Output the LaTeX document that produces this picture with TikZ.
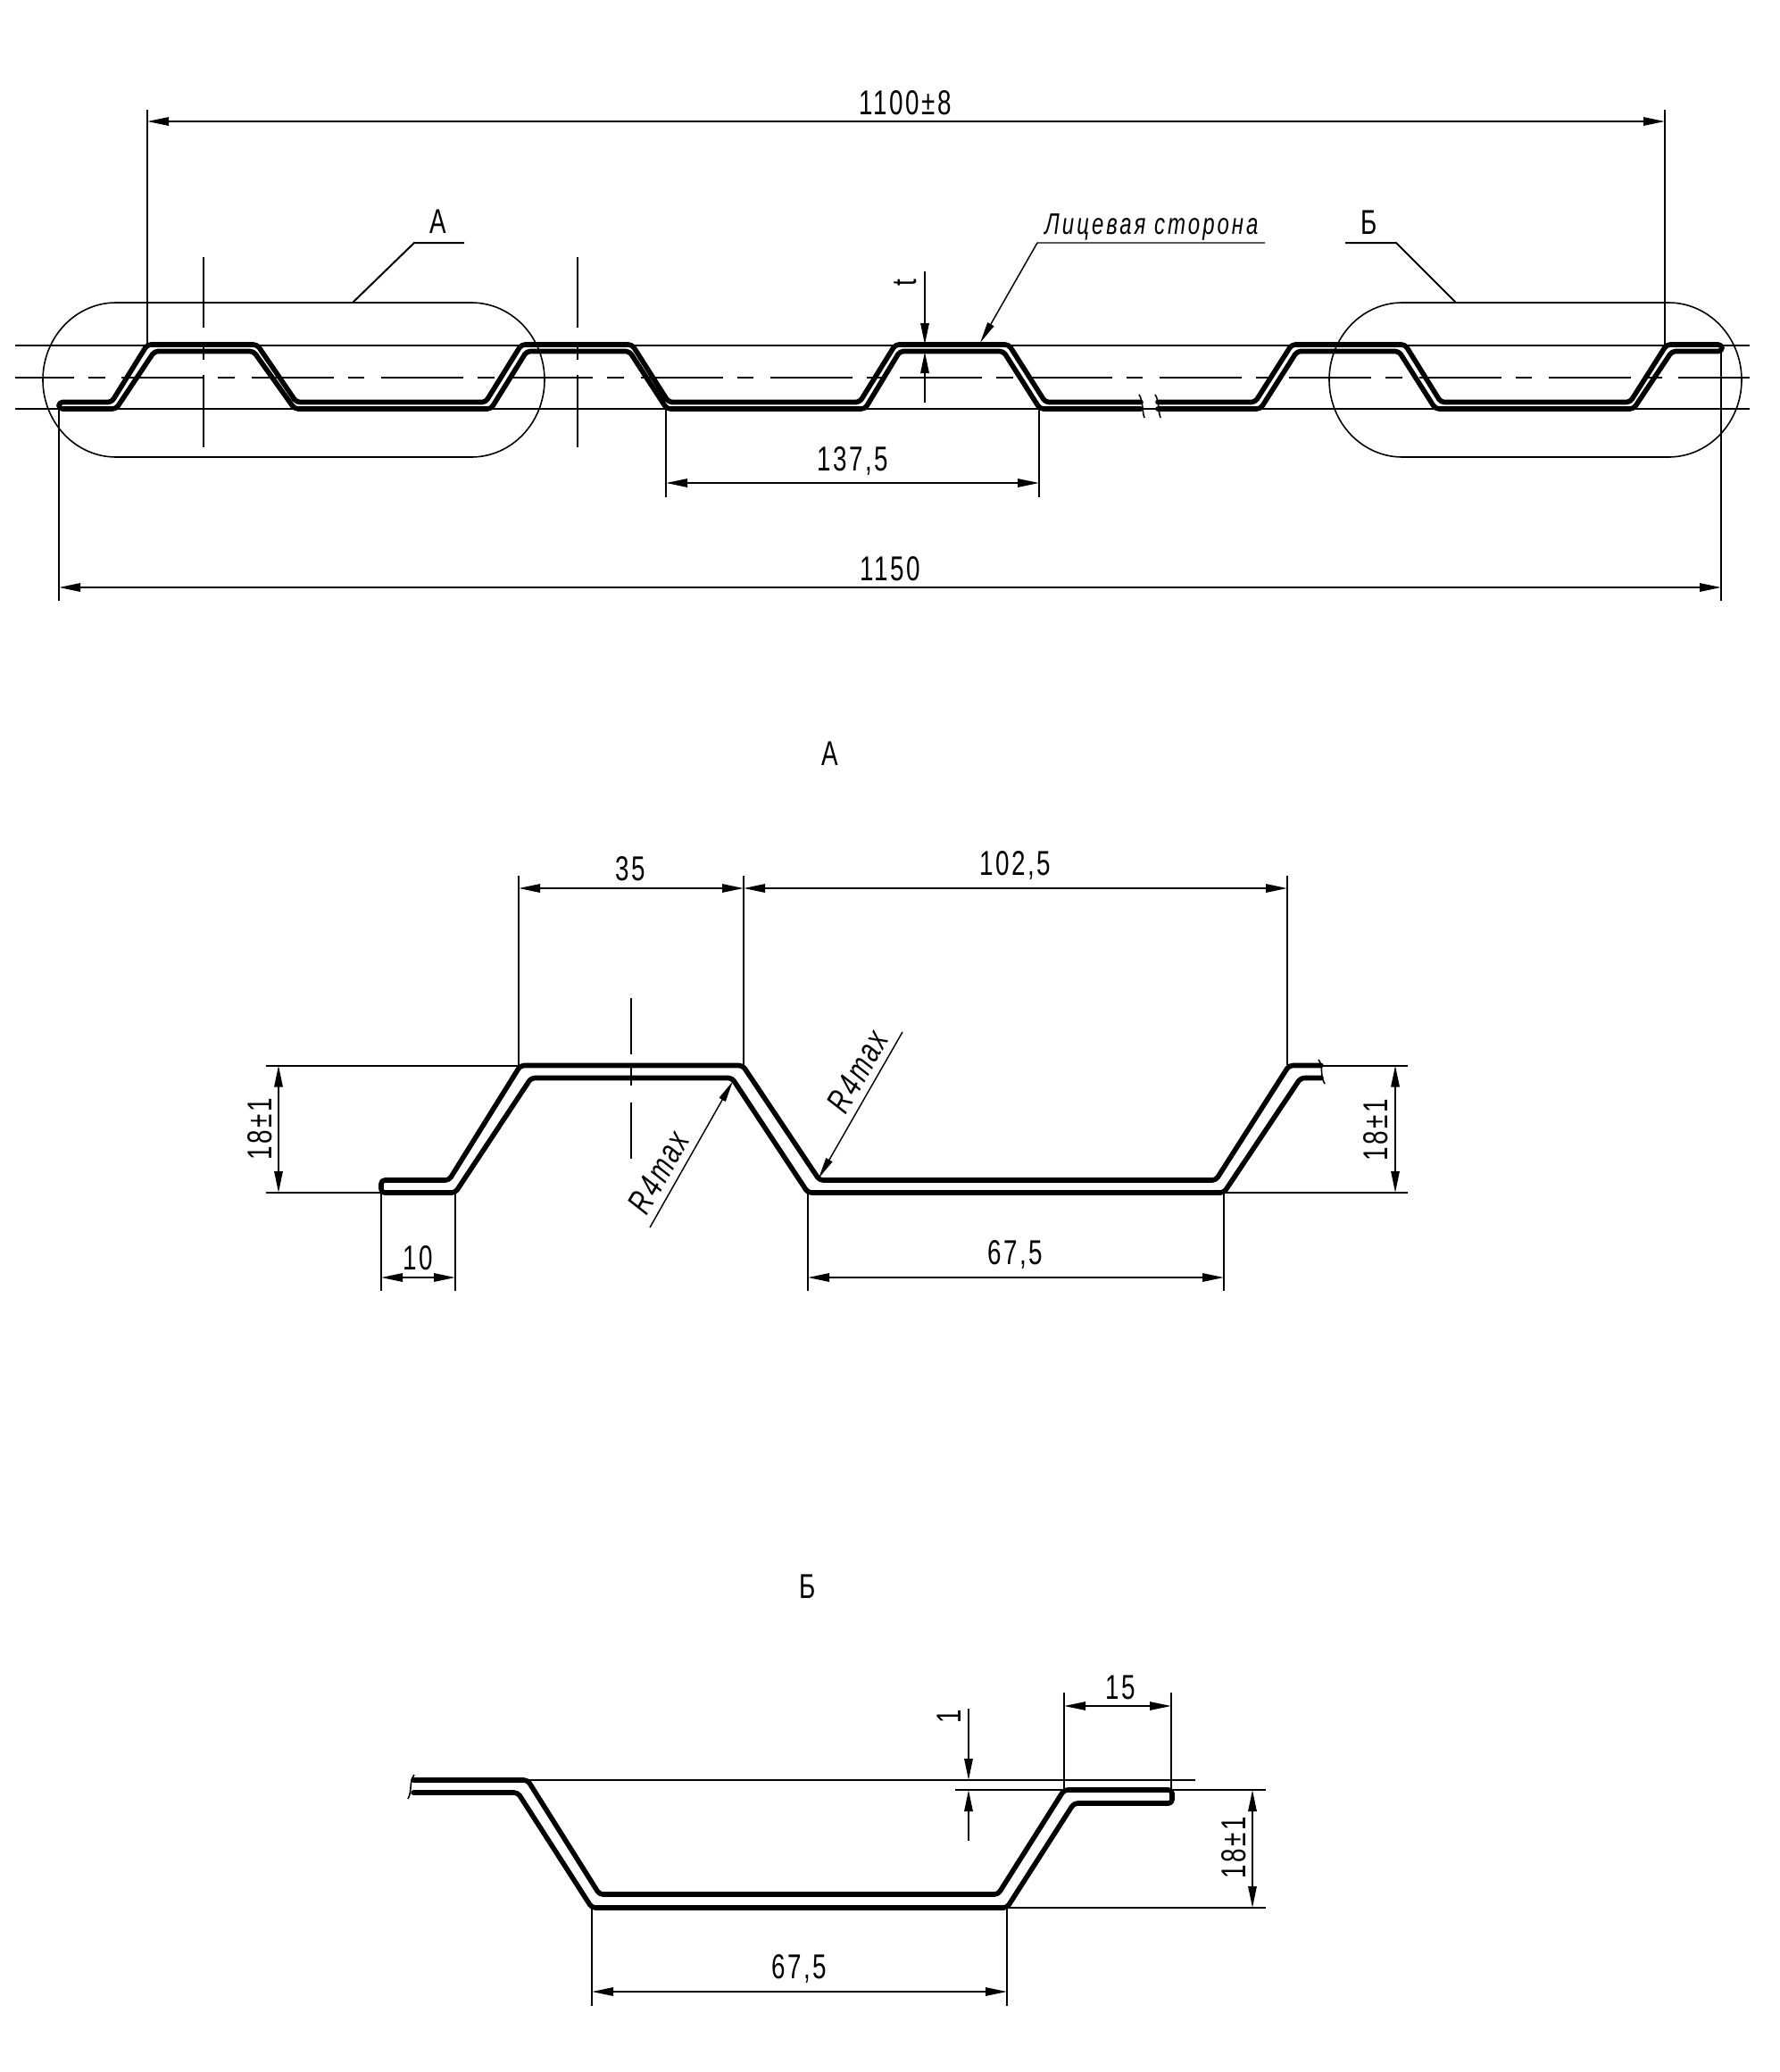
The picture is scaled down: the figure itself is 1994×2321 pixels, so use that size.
\documentclass[tikz,border=0pt]{standalone}
\usepackage{fontspec}
\setmainfont[FakeStretch=0.72,LetterSpace=6.5]{Liberation Sans}
\usetikzlibrary{arrows.meta}

\tikzset{
	profile/.style={line width=4.2pt,line cap=round,line join=round,rounded corners=3pt},
	thinline/.style={line width=1.5pt},
	contour/.style={line width=1.2pt},
	dimline/.style={line width=1.5pt,{Triangle[length=18pt,width=7pt]}-{Triangle[length=18pt,width=7pt]}},
	dimtip/.style={line width=1.5pt,-{Triangle[length=18pt,width=7pt]}},
	radtip/.style={line width=1.1pt,-{Triangle[length=18pt,width=6pt]}},
	dimtext/.style={font=\fontsize{29}{32}\selectfont,inner sep=0pt},
	radtext/.style={font=\itshape\fontsize{29}{32}\selectfont,inner sep=0pt,rotate=60},
	smalltext/.style={font=\itshape\fontsize{25}{28}\selectfont\addfontfeature{LetterSpace=9},inner sep=0pt}
}

\begin{document}
\begin{tikzpicture}[x=0.75pt,y=0.75pt,yscale=-1,xscale=1]
		\useasboundingbox (0,0) rectangle (1994,2321);

		%sheet, full view
		\draw [profile] (1278,450.5) -- (1171,450.5) -- (1130,386) -- (1003,386) -- (963,450.5) -- (749,450.5) -- (708,386) -- (584,386) -- (544,450.5) -- (332,450.5) -- (288,386) -- (165,386) -- (125,450.5) -- (66,450.5) -- (66,458) -- (130,458) -- (173,393.5) -- (284,393.5) -- (330,458) -- (550,458) -- (590,393.5) -- (705,393.5) -- (747,458) -- (969,458) -- (1008,393.5) -- (1124,393.5) -- (1165,458) -- (1278,458) ;
		\draw [profile] (1297,450.5) -- (1406,450.5) -- (1447,386) -- (1574,386) -- (1614,450.5) -- (1826,450.5) -- (1867,386) -- (1929,386) -- (1929,393.5) -- (1873,393.5) -- (1830,458) -- (1608,458) -- (1567,393.5) -- (1453,393.5) -- (1412,458) -- (1297,458) ;
		\draw [contour] (1276,442) .. controls (1281,450) and (1279,460) .. (1282,468) ;
		\draw [contour] (1294,442) .. controls (1299,450) and (1297,460) .. (1300,468) ;

		\draw [thinline] (17,387) -- (1960,387) ;
		\draw [thinline] (17,458) -- (1960,458) ;
		\draw [thinline,dash pattern=on 69pt off 12pt on 14pt off 14pt,dash phase=19.5pt] (17,423) -- (1960,423) ;

		%centre marks
		\foreach \xm in {228,647} {
			\draw [thinline] (\xm,288) -- (\xm,367) ;
			\draw [thinline] (\xm,385) -- (\xm,403) ;
			\draw [thinline] (\xm,420) -- (\xm,501) ;
		}

		%view marks
		\draw [contour] (130,339) -- (528,339) arc [start angle=-90,end angle=90,x radius=82,y radius=86.5] -- (130,512) arc [start angle=90,end angle=270,x radius=82,y radius=86.5] -- cycle ;
		\draw [contour] (1571,339) -- (1869,339) arc [start angle=-90,end angle=90,x radius=82,y radius=86.5] -- (1571,512) arc [start angle=90,end angle=270,x radius=82,y radius=86.5] -- cycle ;
		\draw [thinline] (395,339) -- (464,272) -- (520,272) ;
		\draw [thinline] (1631,339) -- (1564,272) -- (1507,272) ;
		\draw [radtip] (1417,272) -- (1162,272) -- (1098,384) ;

		%overall dimensions
		\draw [thinline] (165,123) -- (165,386) ;
		\draw [thinline] (1865,123) -- (1865,386) ;
		\draw [dimline] (165,136) -- (1865,136) ;
		\draw [thinline] (66,457) -- (66,673) ;
		\draw [thinline] (1928,394) -- (1928,673) ;
		\draw [dimline] (66,658) -- (1928,658) ;
		\draw [thinline] (746,458) -- (746,557) ;
		\draw [thinline] (1164,458) -- (1164,557) ;
		\draw [dimline] (746,541) -- (1164,541) ;
		\draw [dimtip] (1036,304) -- (1036,386) ;
		\draw [dimtip] (1036,451) -- (1036,394) ;

		\node [dimtext] (lenfull) at (1014,115) {1100±8};
		\node [dimtext] (lenall) at (997,637) {1150};
		\node [dimtext] (pitch) at (955,516) {137,5};
		\node [dimtext,rotate=90] (thick) at (1014,317) {t};
		\node [dimtext] (markA) at (491,248) {А};
		\node [dimtext] (markB) at (1534,249) {Б};
		\node [smalltext] (face) at (1290,254) {Лицевая сторона};

		%detail A
		\node [dimtext] (titleA) at (930,844) {А};
		\draw [profile] (1480,1193.5) -- (1444,1193.5) -- (1362,1322) -- (918,1322) -- (832,1193.5) -- (583,1193.5) -- (503,1322) -- (427,1322) -- (427,1336) -- (510,1336) -- (595,1207.5) -- (820,1207.5) -- (905,1336) -- (1371,1336) -- (1457,1207.5) -- (1480,1207.5) ;
		\draw [contour] (1477,1187) .. controls (1483,1195) and (1478,1204) .. (1484,1214) ;

		\draw [thinline] (298,1193.5) -- (581,1193.5) ;
		\draw [thinline] (298,1336) -- (427,1336) ;
		\draw [thinline] (1480,1193.5) -- (1577,1193.5) ;
		\draw [thinline] (1371,1336) -- (1577,1336) ;
		\draw [thinline] (707,1118) -- (707,1181) ;
		\draw [thinline] (707,1192) -- (707,1216) ;
		\draw [thinline] (707,1235) -- (707,1298) ;
		\draw [thinline] (581,981) -- (581,1193) ;
		\draw [thinline] (833,981) -- (833,1193) ;
		\draw [thinline] (1442,981) -- (1442,1193) ;
		\draw [thinline] (427,1336) -- (427,1446) ;
		\draw [thinline] (510,1336) -- (510,1446) ;
		\draw [thinline] (905,1336) -- (905,1446) ;
		\draw [thinline] (1371,1336) -- (1371,1446) ;
		\draw [dimline] (581,995) -- (833,995) ;
		\draw [dimline] (833,995) -- (1442,995) ;
		\draw [dimline] (312,1193.5) -- (312,1336) ;
		\draw [dimline] (1563,1193.5) -- (1563,1336) ;
		\draw [dimline] (427,1431) -- (510,1431) ;
		\draw [dimline] (905,1431) -- (1371,1431) ;
		\draw [radtip] (728,1375) -- (821,1211) ;
		\draw [radtip] (1011,1156) -- (917,1320) ;

		\node [dimtext] (topw) at (706,973) {35};
		\node [dimtext] (trw) at (1137,969) {102,5};
		\node [dimtext,rotate=90] (hleft) at (291,1265) {18±1};
		\node [dimtext,rotate=90] (hright) at (1541,1266) {18±1};
		\node [dimtext] (edgew) at (468,1409) {10};
		\node [dimtext] (basew) at (1137,1405) {67,5};
		\node [radtext] (radl) at (738,1313) {R4max};
		\node [radtext] (radr) at (961,1200) {R4max};

		%detail B
		\node [dimtext] (titleB) at (905,1777) {Б};
		\draw [profile] (463,1994) -- (591,1994) -- (671.5,2122) -- (1118,2122) -- (1192,2005) -- (1313,2005) -- (1313,2020) -- (1203,2020) -- (1128,2137) -- (663,2137) -- (580,2008) -- (463,2008) ;
		\draw [contour] (464,1988) .. controls (458,1996) and (462,2006) .. (457,2015) ;

		\draw [thinline] (591,1994) -- (1339,1994) ;
		\draw [thinline] (1070,2005) -- (1418,2005) ;
		\draw [thinline] (1128,2137) -- (1418,2137) ;
		\draw [thinline] (1192,1896) -- (1192,2005) ;
		\draw [thinline] (1312,1896) -- (1312,2005) ;
		\draw [thinline] (663,2137) -- (663,2247) ;
		\draw [thinline] (1128,2137) -- (1128,2247) ;
		\draw [dimline] (1192,1911) -- (1312,1911) ;
		\draw [dimline] (1403,2005) -- (1403,2137) ;
		\draw [dimline] (663,2231) -- (1128,2231) ;
		\draw [dimtip] (1085,1914) -- (1085,1994) ;
		\draw [dimtip] (1085,2062) -- (1085,2005) ;

		\node [dimtext] (flange) at (1255,1890) {15};
		\node [dimtext,rotate=90] (step) at (1063,1923) {1};
		\node [dimtext,rotate=90] (hbot) at (1382,2070) {18±1};
		\node [dimtext] (basebot) at (895,2205) {67,5};

\end{tikzpicture}
\end{document}
